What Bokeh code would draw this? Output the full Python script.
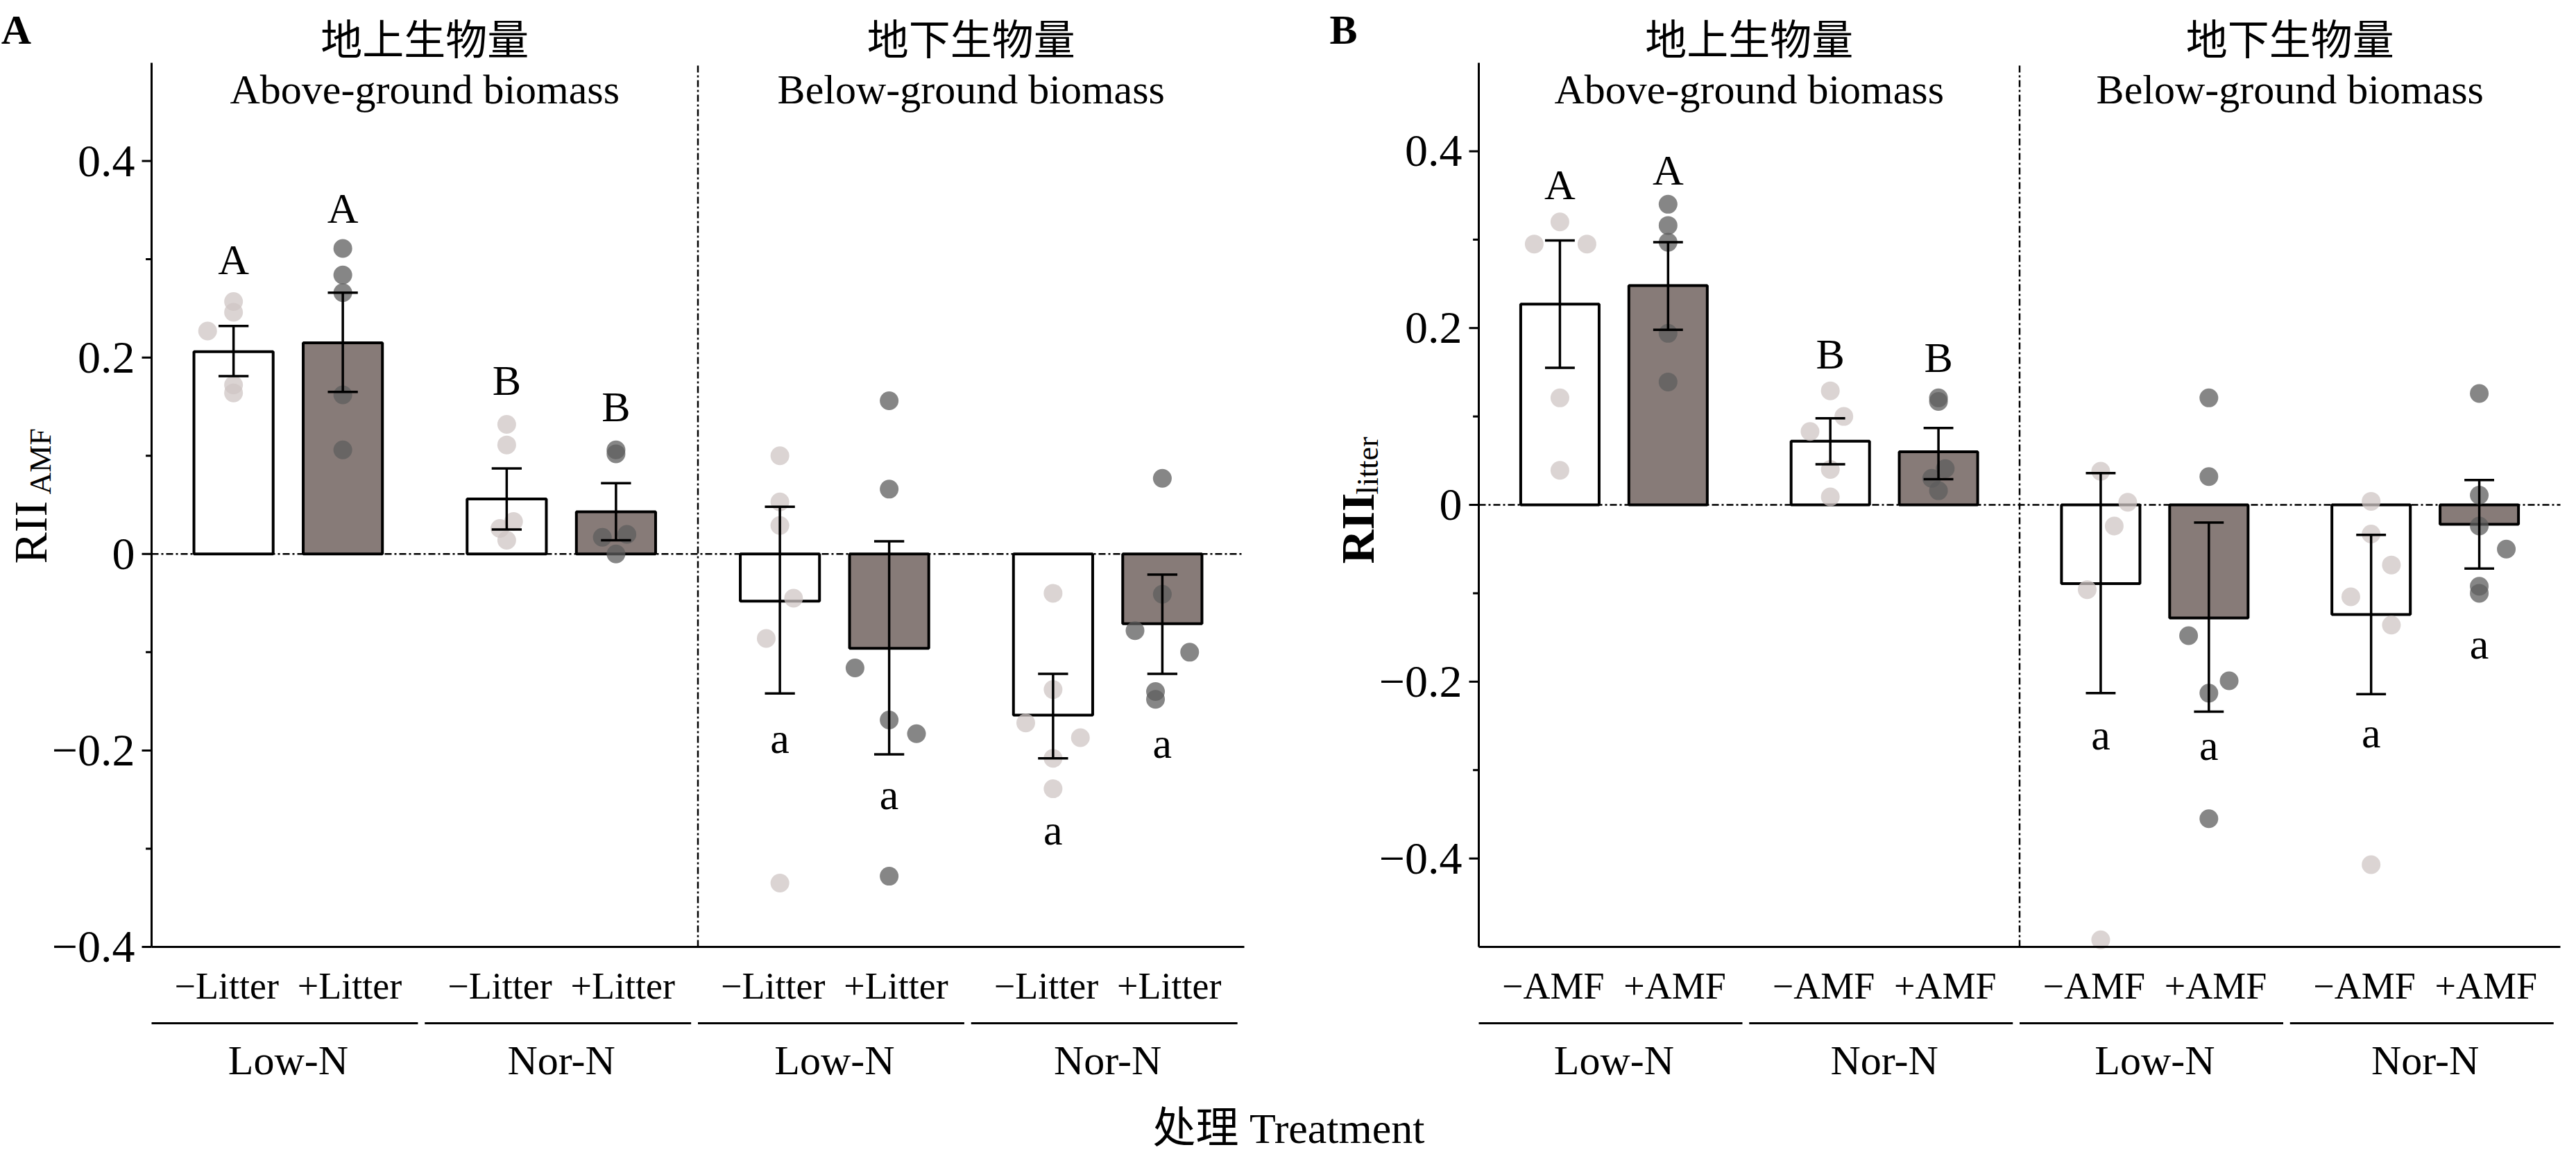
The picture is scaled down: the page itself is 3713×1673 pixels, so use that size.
import numpy as np
from bokeh.plotting import figure
from bokeh.models import Range1d
from bokeh.core.properties import value
from bokeh.embed import file_html
from bokeh.resources import INLINE

# ---------------- data ----------------
cat_A = ["−Litter", "+Litter"] * 4
cat_B = ["−AMF", "+AMF"] * 4
groups = ["Low-N", "Nor-N", "Low-N", "Nor-N"]
sections_cn = ["地上生物量", "地下生物量"]
sections_en = ["Above-ground biomass", "Below-ground biomass"]

mean_A = [0.206, 0.215, 0.056, 0.043, -0.048, -0.096, -0.164, -0.071]
lo_A = [0.181, 0.165, 0.025, 0.014, -0.142, -0.204, -0.208, -0.122]
hi_A = [0.232, 0.266, 0.087, 0.072, 0.048, 0.013, -0.122, -0.021]
letters_A = ["A", "A", "B", "B", "a", "a", "a", "a"]
letter_y_A = [0.300, 0.352, 0.177, 0.150, -0.188, -0.245, -0.281, -0.193]
pts_A = [[0.257, 0.246, 0.227, 0.172, 0.164],
         [0.311, 0.284, 0.266, 0.162, 0.106],
         [0.132, 0.111, 0.033, 0.026, 0.014],
         [0.106, 0.102, 0.020, 0.017, 0.0],
         [0.100, 0.053, 0.029, -0.045, -0.086, -0.335],
         [0.156, 0.066, -0.116, -0.169, -0.183, -0.328],
         [-0.040, -0.138, -0.172, -0.187, -0.208, -0.239],
         [0.077, -0.041, -0.078, -0.100, -0.140, -0.148]]
jit_A = [[0, 0, -0.19, 0, 0], [0, 0, 0, 0, 0], [0, 0, 0.05, -0.05, 0],
         [0, 0, 0.08, -0.1, 0], [0, 0, 0, 0.1, -0.1, 0], [0, 0, -0.25, 0, 0.2, 0],
         [0, 0, -0.2, 0.2, 0, 0], [0, 0, -0.2, 0.2, -0.05, -0.05]]

mean_B = [0.227, 0.248, 0.072, 0.060, -0.089, -0.128, -0.124, -0.022]
lo_B = [0.155, 0.198, 0.046, 0.029, -0.213, -0.234, -0.214, -0.072]
hi_B = [0.299, 0.297, 0.098, 0.087, 0.036, -0.020, -0.034, 0.028]
letters_B = ["A", "A", "B", "B", "a", "a", "a", "a"]
letter_y_B = [0.362, 0.379, 0.171, 0.167, -0.260, -0.272, -0.258, -0.157]
pts_B = [[0.320, 0.295, 0.295, 0.121, 0.039],
         [0.340, 0.316, 0.297, 0.194, 0.139],
         [0.129, 0.100, 0.083, 0.040, 0.009],
         [0.121, 0.117, 0.041, 0.030, 0.016],
         [0.038, 0.003, -0.024, -0.096, -0.492],
         [0.121, 0.032, -0.148, -0.199, -0.213, -0.355],
         [0.004, -0.033, -0.068, -0.104, -0.136, -0.407],
         [0.126, 0.011, -0.024, -0.050, -0.092, -0.100]]
jit_B = [[0, -0.19, 0.2, 0, 0], [0, 0, 0, 0, 0], [0, 0.1, -0.15, 0, 0],
         [0, 0, 0.05, -0.05, 0], [0, 0.2, 0.1, -0.1, 0], [0, 0, -0.15, 0.15, 0, 0],
         [0, 0, 0.15, -0.15, 0.15, 0], [0, 0, 0, 0.2, 0, 0]]

yticks_A = [0.4, 0.2, 0.0, -0.2, -0.4]
yticks_B = [0.4, 0.2, 0.0, -0.2, -0.4]

# ---------------- layout ----------------
W, H = 3697, 1655
SERIF = value("Liberation Serif")
MIX = value("'Liberation Serif', 'Noto Sans CJK SC'")
CJK = value("Noto Sans CJK SC")
TOP_PX, BOT_PX = 90, 1364

panels = {
    "A": dict(left=218, right=1793, ytop=0.5, ybot=-0.4, rng=None),
    "B": dict(left=2131, right=3690, ytop=0.5, ybot=-0.5, rng="B"),
}
for k, d in panels.items():
    d["ux"] = (d["right"] - d["left"]) / 8.0
    d["uy"] = (BOT_PX - TOP_PX) / (d["ytop"] - d["ybot"])
    d["x0"] = -d["left"] / d["ux"]
    d["x1"] = (W - d["left"]) / d["ux"]
    d["y1"] = d["ytop"] + TOP_PX / d["uy"]
    d["y0"] = d["ybot"] - (H - BOT_PX) / d["uy"]

pa, pb = panels["A"], panels["B"]
p = figure(width=W, height=H, output_backend="svg", toolbar_location=None,
           x_range=Range1d(pa["x0"], pa["x1"]), y_range=Range1d(pa["y0"], pa["y1"]),
           x_axis_location=None, y_axis_location=None, min_border=0,
           outline_line_color=None)
p.extra_x_ranges = {"B": Range1d(pb["x0"], pb["x1"])}
p.extra_y_ranges = {"B": Range1d(pb["y0"], pb["y1"])}
p.xgrid.visible = False
p.ygrid.visible = False
p.background_fill_color = "white"
p.border_fill_color = "white"

centers = [0.6, 1.4, 2.6, 3.4, 4.6, 5.4, 6.6, 7.4]
label_x = [0.55, 1.45, 2.55, 3.45, 4.55, 5.45, 6.55, 7.45]
BAR_W = 0.58
fills = ["white", "#877b78"] * 4


def draw(key, cats, mean, lo, hi, letters, ly, pts, jit, yticks, ylab, ysub, sub_bold):
    d = panels[key]
    kw = {} if d["rng"] is None else dict(x_range_name="B", y_range_name="B")
    ypx = lambda px: d["ytop"] - (px - TOP_PX) / d["uy"]
    dx = lambda px: px / d["ux"]
    p.vbar(x=centers, top=mean, bottom=0, width=BAR_W, fill_color=fills,
           line_color="black", line_width=4, **kw)
    p.line(x=[0, 8], y=[0, 0], line_color="black", line_width=2.5, line_dash="10 4 3 4", **kw)
    p.line(x=[4, 4], y=[d["ybot"], d["ytop"]], line_color="black", line_width=2.5,
           line_dash="10 4 3 4", **kw)
    for i, (vals, js) in enumerate(zip(pts, jit)):
        col = "#cfc6c4" if i % 2 == 0 else "#5e5e5e"
        p.scatter(x=[centers[i] + j for j in js], y=vals, size=27, fill_color=col,
                  fill_alpha=0.75, line_color=None, **kw)
    cap = 0.11
    p.segment(x0=centers, x1=centers, y0=lo, y1=hi, line_color="black", line_width=3.5, **kw)
    p.segment(x0=[c - cap for c in centers], x1=[c + cap for c in centers], y0=lo, y1=lo,
              line_color="black", line_width=3.5, **kw)
    p.segment(x0=[c - cap for c in centers], x1=[c + cap for c in centers], y0=hi, y1=hi,
              line_color="black", line_width=3.5, **kw)
    p.text(x=centers, y=ly, text=letters, text_font=SERIF, text_font_size="62px",
           text_align="center", text_baseline="middle", **kw)
    p.line(x=[0, 0], y=[d["ybot"], d["ytop"]], line_color="black", line_width=3, **kw)
    p.line(x=[0, 8], y=[d["ybot"], d["ybot"]], line_color="black", line_width=3, **kw)
    tl = dx(14)
    minors = [round(t + 0.1, 2) for t in yticks[1:]] + [round(yticks[0] + 0.1, 2)]
    minors = [m for m in minors if d["ybot"] < m < d["ytop"] and m not in yticks]
    p.segment(x0=[-tl] * len(yticks), x1=[0] * len(yticks), y0=yticks, y1=yticks,
              line_color="black", line_width=3, **kw)
    p.segment(x0=[-tl * 0.6] * len(minors), x1=[0] * len(minors), y0=minors, y1=minors,
              line_color="black", line_width=3, **kw)
    labs = ["0" if t == 0 else ("−%.1f" % -t if t < 0 else "%.1f" % t) for t in yticks]
    p.text(x=[-dx(24)] * len(yticks), y=yticks, text=labs, text_font=SERIF,
           text_font_size="66px", text_align="right", text_baseline="middle", **kw)
    p.text(x=[-dx(175)], y=[ypx(812)], text=[ylab], text_font=SERIF, text_font_size="68px",
           angle=np.pi / 2, text_align="left", text_baseline="middle",
           text_font_style="bold" if sub_bold else "normal", **kw)
    p.text(x=[-dx(160)], y=[ypx(712)], text=[ysub], text_font=SERIF, text_font_size="44px",
           angle=np.pi / 2, text_align="left", text_baseline="middle", **kw)
    p.text(x=[2, 6], y=[ypx(52)] * 2, text=sections_cn, text_font=CJK,
           text_font_size="60px", text_align="center", text_baseline="middle", **kw)
    p.text(x=[2, 6], y=[ypx(128)] * 2, text=sections_en, text_font=SERIF,
           text_font_size="60px", text_align="center", text_baseline="middle", **kw)
    p.text(x=label_x, y=[ypx(1420)] * 8, text=cats, text_font=SERIF,
           text_font_size="54px", text_align="center", text_baseline="middle", **kw)
    gc = [1, 3, 5, 7]
    p.segment(x0=[g - 1.0 for g in gc], x1=[g + 0.95 for g in gc],
              y0=[ypx(1474)] * 4, y1=[ypx(1474)] * 4, line_color="black", line_width=3, **kw)
    p.text(x=gc, y=[ypx(1527)] * 4, text=groups, text_font=SERIF,
           text_font_size="60px", text_align="center", text_baseline="middle", **kw)
    p.text(x=[-dx(195)], y=[ypx(42)], text=[key], text_font=SERIF, text_font_size="60px",
           text_font_style="bold", text_align="center", text_baseline="middle", **kw)


draw("A", cat_A, mean_A, lo_A, hi_A, letters_A, letter_y_A, pts_A, jit_A, yticks_A,
     "RII", "AMF", False)
draw("B", cat_B, mean_B, lo_B, hi_B, letters_B, letter_y_B, pts_B, jit_B, yticks_B,
     "RII", "litter", True)

xlab_x = (1857 - pa["left"]) / pa["ux"]
xlab_y = pa["ytop"] - (1625 - TOP_PX) / pa["uy"]
p.text(x=[xlab_x], y=[xlab_y], text=["处理 Treatment"], text_font=MIX,
       text_font_size="62px", text_align="center", text_baseline="middle")

open("out.html", "w").write(file_html(p, INLINE))
